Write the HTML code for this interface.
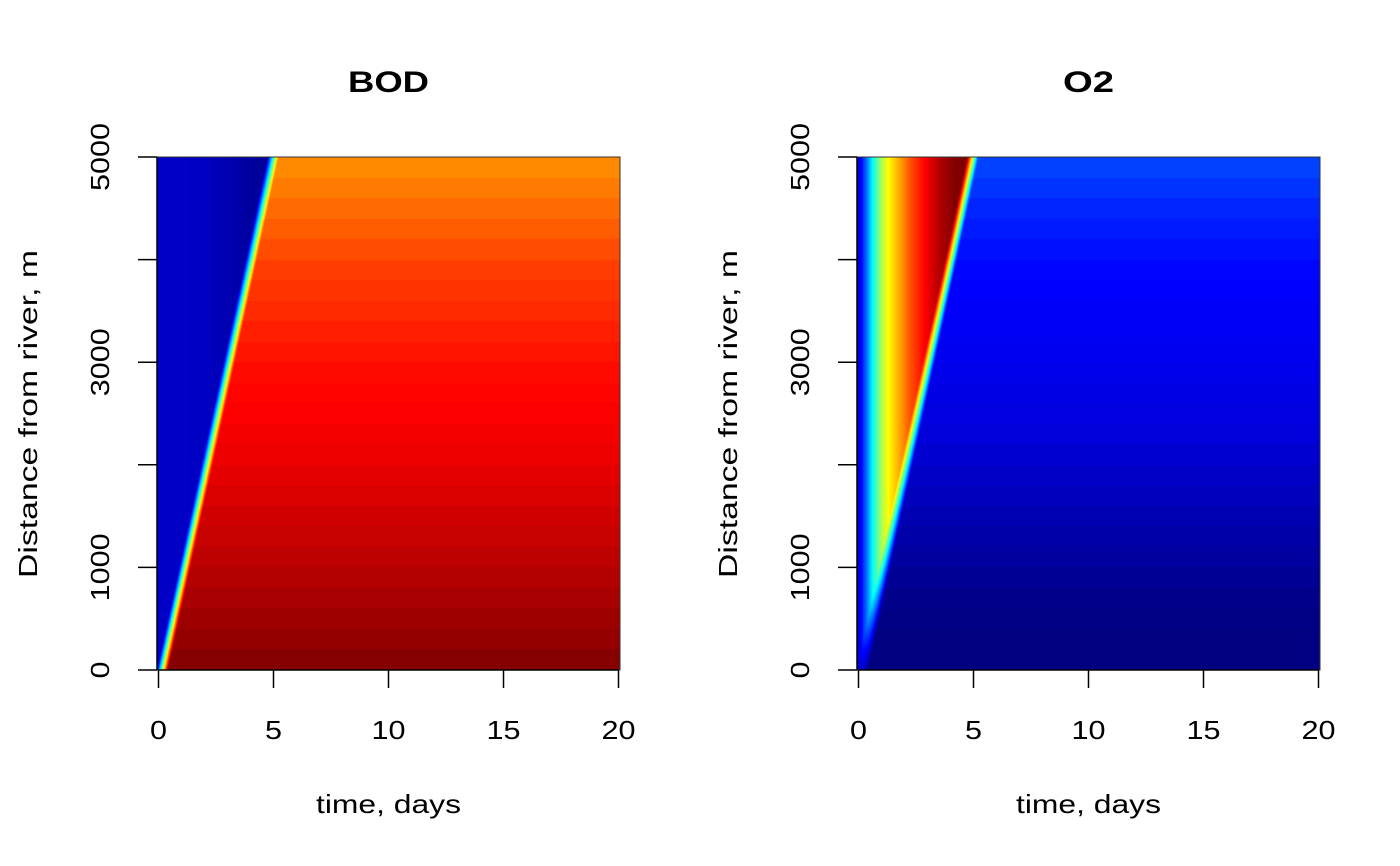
<!DOCTYPE html>
<html><head><meta charset="utf-8"><style>
body{margin:0;background:#fff;}
svg{font-family:"Liberation Sans",sans-serif;}
</style></head><body>
<div style="position:relative;width:1400px;height:866px">
<canvas id="c1" width="463" height="513" style="position:absolute;left:157px;top:157px"></canvas>
<canvas id="c2" width="463" height="513" style="position:absolute;left:857px;top:157px"></canvas>
<svg id="ax" width="1400" height="866" style="position:absolute;left:0;top:0"></svg>
</div>
<script>
// data (rows of 200 m, bottom to top)
const rowDist=[0,200,400,600,800,1000,1200,1400,1600,1800,2000,2200,2400,2600,2800,3000,3200,3400,3600,3800,4000,4200,4400,4600,4800];
const bodPlateau=[0.995,0.98,0.97,0.96,0.95,0.94,0.93,0.92,0.91,0.90,0.892,0.885,0.878,0.872,0.865,0.855,0.845,0.835,0.825,0.815,0.80,0.785,0.77,0.755,0.74];
const o2Plateau=[0.0,0.0,0.005,0.01,0.02,0.03,0.04,0.05,0.06,0.07,0.08,0.09,0.095,0.10,0.105,0.11,0.115,0.12,0.125,0.13,0.14,0.15,0.16,0.175,0.19];
const frontDist=[0,1000,2000,3000,4000,5000];
const frontDay=[0.15,1.12,2.08,3.04,4.0,4.95];
const bodPreDay=[0,1,2,3,4,5];
const bodPreVal=[0.07,0.07,0.065,0.05,0.03,0.02];
const o2PreDay=[0,0.3,0.6,1.0,1.3,1.7,2.2,2.8,3.5,4.2,5.0];
const o2PreVal=[0.08,0.22,0.38,0.55,0.63,0.70,0.79,0.87,0.95,1.0,1.0];
const xTicks=[0,5,10,15,20];
const yTicks=[0,1000,2000,3000,4000,5000];
const yLabels=["0","1000","","3000","","5000"];

const W=463,H=513,X0=[157,857],Y0=157;
const xs=t=>t/20*(W-3)+1.5;
const ys=d=>H-d/5000*H;
function interp(xa,ya,x){if(x<=xa[0])return ya[0];for(let i=1;i<xa.length;i++){if(x<=xa[i]){const f=(x-xa[i-1])/(xa[i]-xa[i-1]);return ya[i-1]+f*(ya[i]-ya[i-1]);}}return ya[ya.length-1];}
const cl=v=>Math.max(0,Math.min(1,v));
function jet(v){return [cl(1.5-Math.abs(4*v-3)),cl(1.5-Math.abs(4*v-2)),cl(1.5-Math.abs(4*v-1))].map(c=>Math.round(c*255));}
function draw(id,plateau,preD,preV){
 const ctx=document.getElementById(id).getContext('2d');const img=ctx.createImageData(W,H);
 for(let py=0;py<H;py++){
  const d=(H-py-0.5)/H*5000;const row=Math.min(rowDist.length-1,Math.floor(d/200));
  const fd=interp(frontDist,frontDay,d);const pv=plateau[row];
  for(let px=0;px<W;px++){
   const t=(px-1.5)/(W-3)*20;
   const pre=interp(preD,preV,t);
   const f=cl((t-(fd-0.25))/0.5);
   const v=pre+(pv-pre)*f;const c=jet(v);const k=(py*W+px)*4;
   img.data[k]=c[0];img.data[k+1]=c[1];img.data[k+2]=c[2];img.data[k+3]=255;
  }}
 ctx.putImageData(img,0,0);
}
draw('c1',bodPlateau,bodPreDay,bodPreVal);
draw('c2',o2Plateau,o2PreDay,o2PreVal);

const svg=document.getElementById('ax');const NS='http://www.w3.org/2000/svg';
function el(tag,attrs,txt){const e=document.createElementNS(NS,tag);for(const k in attrs)e.setAttribute(k,attrs[k]);if(txt!==undefined)e.textContent=txt;svg.appendChild(e);return e;}
const titles=["BOD","O2"];
const titleW=[81,51];
for(let p=0;p<2;p++){
 const x0=X0[p];
 let e=el('rect',{x:x0,y:Y0,width:W,height:H,fill:'none',stroke:'#333','stroke-width':1});
 
 
 e=el('line',{x1:x0+xs(0),x2:x0+xs(20),y1:670,y2:670,stroke:'#000','stroke-width':1.5});
 
 
 e=el('line',{x1:x0,x2:x0,y1:Y0,y2:670,stroke:'#000','stroke-width':1.5});
 
 
 xTicks.forEach(t=>{
  const x=x0+xs(t);
  let l=el('line',{x1:x,x2:x,y1:670,y2:688,stroke:'#000','stroke-width':1.5});
  
  
  const s=String(t);
  let tx=el('text',{x:x,y:739,'font-size':26,'text-anchor':'middle',textLength:s.length*17,lengthAdjust:'spacingAndGlyphs'},s);
  
  
 });
 yTicks.forEach((d,i)=>{
  const y=Y0+ys(d);
  let l=el('line',{x1:x0-19,x2:x0,y1:y,y2:y,stroke:'#000','stroke-width':1.5});
  
  
  const s=yLabels[i];
  if(s){let tx=el('text',{x:0,y:0,'font-size':26,'text-anchor':'middle',textLength:s.length*17,lengthAdjust:'spacingAndGlyphs',transform:`translate(${x0-48},${y}) rotate(-90)`},s);
  
  }
 });
 e=el('text',{x:x0+W/2,y:92,'font-size':30,'font-weight':'bold','text-anchor':'middle',textLength:titleW[p],lengthAdjust:'spacingAndGlyphs'},titles[p]);
 
 
 e=el('text',{x:x0+W/2,y:813,'font-size':26,'text-anchor':'middle',textLength:145,lengthAdjust:'spacingAndGlyphs'},'time, days');
 
 
 e=el('text',{x:0,y:0,'font-size':26,'text-anchor':'middle',textLength:328,lengthAdjust:'spacingAndGlyphs',transform:`translate(${x0-120},${414}) rotate(-90)`},'Distance from river, m');
 
 
}
</script>
</body></html>
